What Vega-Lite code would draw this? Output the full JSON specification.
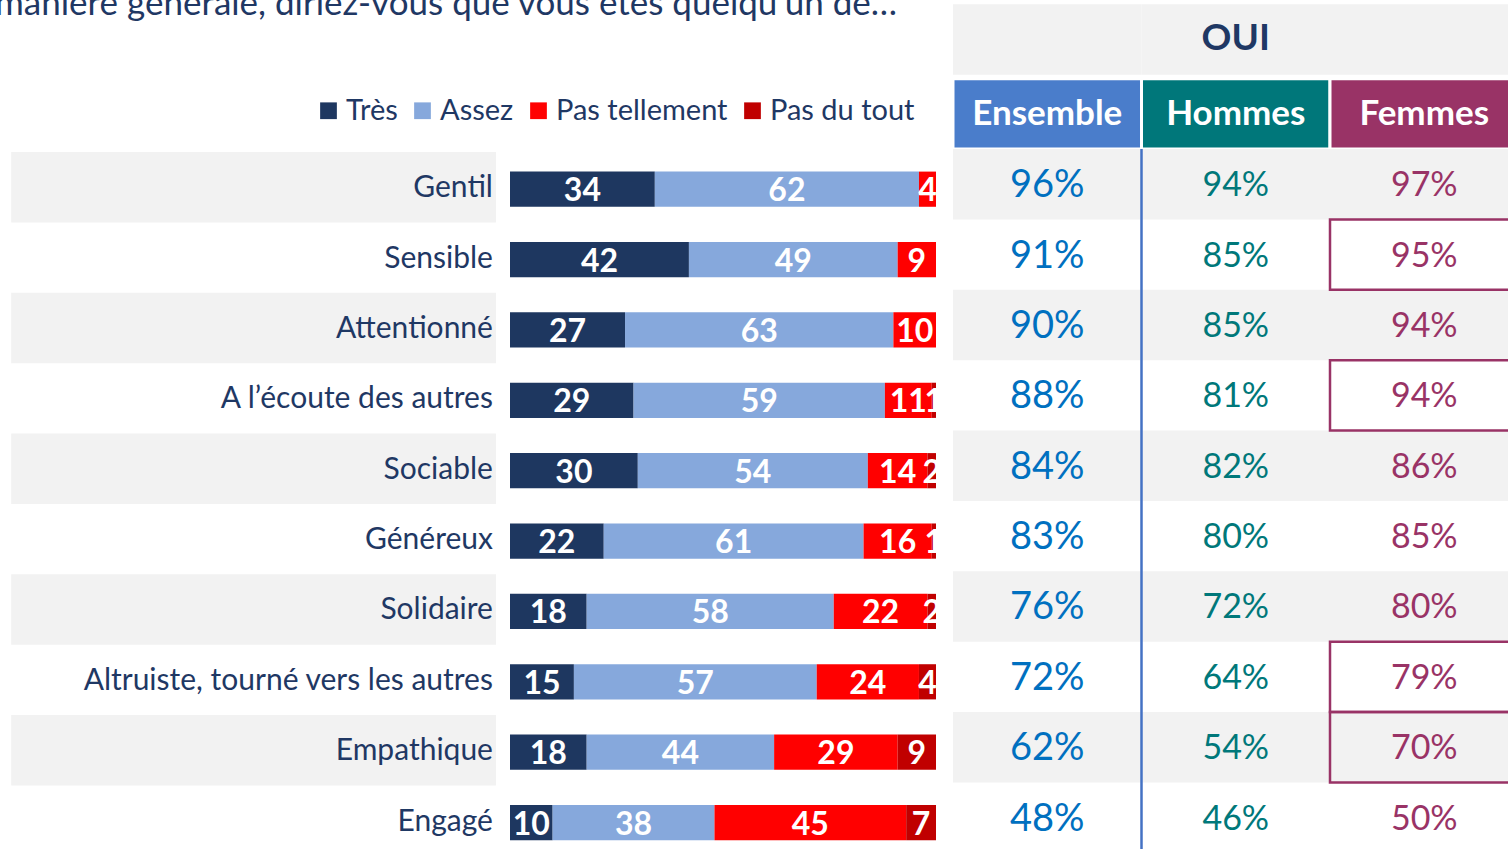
{
  "$schema": "https://vega.github.io/schema/vega-lite/v6.json",
  "width": 1508,
  "height": 849,
  "autosize": {"type": "none"},
  "padding": 0,
  "background": "white",
  "config": {"view": {"stroke": null}, "font": "Lato"},
  "datasets": {
    "barres": [
      {"item": "Gentil", "reponse": "Très", "valeur": 34},
      {"item": "Gentil", "reponse": "Assez", "valeur": 62},
      {"item": "Gentil", "reponse": "Pas tellement", "valeur": 4},
      {"item": "Sensible", "reponse": "Très", "valeur": 42},
      {"item": "Sensible", "reponse": "Assez", "valeur": 49},
      {"item": "Sensible", "reponse": "Pas tellement", "valeur": 9},
      {"item": "Attentionné", "reponse": "Très", "valeur": 27},
      {"item": "Attentionné", "reponse": "Assez", "valeur": 63},
      {"item": "Attentionné", "reponse": "Pas tellement", "valeur": 10},
      {"item": "A l’écoute des autres", "reponse": "Très", "valeur": 29},
      {"item": "A l’écoute des autres", "reponse": "Assez", "valeur": 59},
      {"item": "A l’écoute des autres", "reponse": "Pas tellement", "valeur": 11},
      {"item": "A l’écoute des autres", "reponse": "Pas du tout", "valeur": 1},
      {"item": "Sociable", "reponse": "Très", "valeur": 30},
      {"item": "Sociable", "reponse": "Assez", "valeur": 54},
      {"item": "Sociable", "reponse": "Pas tellement", "valeur": 14},
      {"item": "Sociable", "reponse": "Pas du tout", "valeur": 2},
      {"item": "Généreux", "reponse": "Très", "valeur": 22},
      {"item": "Généreux", "reponse": "Assez", "valeur": 61},
      {"item": "Généreux", "reponse": "Pas tellement", "valeur": 16},
      {"item": "Généreux", "reponse": "Pas du tout", "valeur": 1},
      {"item": "Solidaire", "reponse": "Très", "valeur": 18},
      {"item": "Solidaire", "reponse": "Assez", "valeur": 58},
      {"item": "Solidaire", "reponse": "Pas tellement", "valeur": 22},
      {"item": "Solidaire", "reponse": "Pas du tout", "valeur": 2},
      {"item": "Altruiste, tourné vers les autres", "reponse": "Très", "valeur": 15},
      {"item": "Altruiste, tourné vers les autres", "reponse": "Assez", "valeur": 57},
      {"item": "Altruiste, tourné vers les autres", "reponse": "Pas tellement", "valeur": 24},
      {"item": "Altruiste, tourné vers les autres", "reponse": "Pas du tout", "valeur": 4},
      {"item": "Empathique", "reponse": "Très", "valeur": 18},
      {"item": "Empathique", "reponse": "Assez", "valeur": 44},
      {"item": "Empathique", "reponse": "Pas tellement", "valeur": 29},
      {"item": "Empathique", "reponse": "Pas du tout", "valeur": 9},
      {"item": "Engagé", "reponse": "Très", "valeur": 10},
      {"item": "Engagé", "reponse": "Assez", "valeur": 38},
      {"item": "Engagé", "reponse": "Pas tellement", "valeur": 45},
      {"item": "Engagé", "reponse": "Pas du tout", "valeur": 7}
    ],
    "oui": [
      {"item": "Gentil", "Ensemble": 96, "Hommes": 94, "Femmes": 97, "ecart_femmes": false},
      {"item": "Sensible", "Ensemble": 91, "Hommes": 85, "Femmes": 95, "ecart_femmes": true},
      {"item": "Attentionné", "Ensemble": 90, "Hommes": 85, "Femmes": 94, "ecart_femmes": false},
      {"item": "A l’écoute des autres", "Ensemble": 88, "Hommes": 81, "Femmes": 94, "ecart_femmes": true},
      {"item": "Sociable", "Ensemble": 84, "Hommes": 82, "Femmes": 86, "ecart_femmes": false},
      {"item": "Généreux", "Ensemble": 83, "Hommes": 80, "Femmes": 85, "ecart_femmes": false},
      {"item": "Solidaire", "Ensemble": 76, "Hommes": 72, "Femmes": 80, "ecart_femmes": false},
      {"item": "Altruiste, tourné vers les autres", "Ensemble": 72, "Hommes": 64, "Femmes": 79, "ecart_femmes": true},
      {"item": "Empathique", "Ensemble": 62, "Hommes": 54, "Femmes": 70, "ecart_femmes": true},
      {"item": "Engagé", "Ensemble": 48, "Hommes": 46, "Femmes": 50, "ecart_femmes": false}
    ]
  },
  "resolve": {"scale": {"x": "independent", "color": "independent"}},
  "layer": [
    {
      "layer": [
        {
          "data": {"name": "oui"},
          "transform": [
            {"window": [{"op": "row_number", "as": "rang"}]},
            {"filter": "datum.rang % 2 == 1"}
          ],
          "mark": {"type": "rect", "color": "#f2f2f2", "yOffset": 3},
          "encoding": {
            "x": {"datum": -117.1, "type": "quantitative", "scale": {"domain": [0, 100], "range": [510, 936], "nice": false}, "axis": null},
            "x2": {"datum": -3.29},
            "y": {"field": "item", "type": "nominal", "axis": null, "scale": {"type": "band", "domain": ["OUI", "Groupes", "Gentil", "Sensible", "Attentionné", "A l’écoute des autres", "Sociable", "Généreux", "Solidaire", "Altruiste, tourné vers les autres", "Empathique", "Engagé"], "range": [8.25, 852.75], "paddingInner": 0, "paddingOuter": 0}}
          }
        },
        {
          "data": {"name": "oui"},
          "mark": {"type": "text", "align": "right", "baseline": "middle", "fontSize": 30, "color": "#1f3864", "yOffset": 4},
          "encoding": {
            "x": {"datum": -4, "type": "quantitative", "scale": {"domain": [0, 100], "range": [510, 936], "nice": false}, "axis": null},
            "y": {"field": "item", "type": "nominal", "axis": null, "scale": {"type": "band", "domain": ["OUI", "Groupes", "Gentil", "Sensible", "Attentionné", "A l’écoute des autres", "Sociable", "Généreux", "Solidaire", "Altruiste, tourné vers les autres", "Empathique", "Engagé"], "range": [8.25, 852.75], "paddingInner": 0, "paddingOuter": 0}},
            "text": {"field": "item"}
          }
        },
        {
          "data": {"name": "barres"},
          "transform": [
            {"calculate": "indexof(['Très','Assez','Pas tellement','Pas du tout'], datum.reponse)", "as": "ordre"},
            {"stack": "valeur", "groupby": ["item"], "sort": [{"field": "ordre", "order": "ascending"}], "as": ["v0", "v1"]}
          ],
          "mark": {"type": "bar", "height": {"band": 0.5}, "yOffset": 5},
          "encoding": {
            "x": {"field": "v0", "type": "quantitative", "scale": {"domain": [0, 100], "range": [510, 936], "nice": false}, "axis": null},
            "x2": {"field": "v1"},
            "y": {"field": "item", "type": "nominal", "axis": null, "scale": {"type": "band", "domain": ["OUI", "Groupes", "Gentil", "Sensible", "Attentionné", "A l’écoute des autres", "Sociable", "Généreux", "Solidaire", "Altruiste, tourné vers les autres", "Empathique", "Engagé"], "range": [8.25, 852.75], "paddingInner": 0, "paddingOuter": 0}},
            "color": {
              "field": "reponse", "type": "nominal",
              "scale": {"domain": ["Très", "Assez", "Pas tellement", "Pas du tout"], "range": ["#1e3760", "#86a8dc", "#ff0000", "#c00000"]},
              "legend": {"orient": "none", "legendX": 314, "legendY": 96, "direction": "horizontal", "title": null, "symbolType": "square", "symbolSize": 280, "symbolStrokeWidth": 0, "labelFontSize": 29, "labelFont": "Lato", "labelColor": "#1f3864", "labelLimit": 400, "labelOffset": 3, "columnSpacing": 15, "padding": 0}
            }
          }
        },
        {
          "data": {"name": "barres"},
          "transform": [
            {"calculate": "indexof(['Très','Assez','Pas tellement','Pas du tout'], datum.reponse)", "as": "ordre"},
            {"stack": "valeur", "groupby": ["item"], "sort": [{"field": "ordre", "order": "ascending"}], "as": ["v0", "v1"]},
            {"calculate": "(datum.v0 + datum.v1) / 2", "as": "milieu"}
          ],
          "mark": {"type": "text", "align": "center", "baseline": "middle", "fontSize": 32, "fontWeight": "bold", "color": "white", "yOffset": 7},
          "encoding": {
            "x": {"field": "milieu", "type": "quantitative", "scale": {"domain": [0, 100], "range": [510, 936], "nice": false}, "axis": null},
            "y": {"field": "item", "type": "nominal", "axis": null, "scale": {"type": "band", "domain": ["OUI", "Groupes", "Gentil", "Sensible", "Attentionné", "A l’écoute des autres", "Sociable", "Généreux", "Solidaire", "Altruiste, tourné vers les autres", "Empathique", "Engagé"], "range": [8.25, 852.75], "paddingInner": 0, "paddingOuter": 0}},
            "text": {"field": "valeur"}
          }
        },
        {
          "data": {"name": "oui"},
          "mark": {"type": "rect", "color": "white"},
          "encoding": {
            "x": {"datum": 100, "type": "quantitative", "scale": {"domain": [0, 100], "range": [510, 936], "nice": false}, "axis": null},
            "x2": {"datum": 103.99},
            "y": {"field": "item", "type": "nominal", "axis": null, "scale": {"type": "band", "domain": ["OUI", "Groupes", "Gentil", "Sensible", "Attentionné", "A l’écoute des autres", "Sociable", "Généreux", "Solidaire", "Altruiste, tourné vers les autres", "Empathique", "Engagé"], "range": [8.25, 852.75], "paddingInner": 0, "paddingOuter": 0}}
          }
        },
        {
          "data": {"values": [{}]},
          "mark": {"type": "text", "text": "manière générale, diriez-vous que vous êtes quelqu’un de…", "align": "left", "baseline": "alphabetic", "dy": 7, "fontSize": 35, "color": "#1f3864"},
          "encoding": {
            "x": {"datum": -120.9, "type": "quantitative", "scale": {"domain": [0, 100], "range": [510, 936], "nice": false}, "axis": null},
            "y": {"datum": "OUI", "type": "nominal", "bandPosition": 0, "axis": null, "scale": {"type": "band", "domain": ["OUI", "Groupes", "Gentil", "Sensible", "Attentionné", "A l’écoute des autres", "Sociable", "Généreux", "Solidaire", "Altruiste, tourné vers les autres", "Empathique", "Engagé"], "range": [8.25, 852.75], "paddingInner": 0, "paddingOuter": 0}}
          }
        }
      ]
    },
    {
      "layer": [
        {
          "data": {"name": "oui"},
          "transform": [
            {"fold": ["Ensemble", "Hommes", "Femmes"], "as": ["groupe", "valeur"]},
            {"filter": "datum.item === 'Gentil'"}
          ],
          "mark": {"type": "rect", "color": "#f2f2f2", "yOffset": -4},
          "encoding": {
            "x": {"field": "groupe", "type": "nominal", "axis": null, "scale": {"type": "band", "domain": ["Ensemble", "Hommes", "Femmes"], "range": [953, 1518.5], "paddingInner": 0, "paddingOuter": 0}},
            "y": {"datum": "OUI", "type": "nominal", "axis": null, "scale": {"type": "band", "domain": ["OUI", "Groupes", "Gentil", "Sensible", "Attentionné", "A l’écoute des autres", "Sociable", "Généreux", "Solidaire", "Altruiste, tourné vers les autres", "Empathique", "Engagé"], "range": [8.25, 852.75], "paddingInner": 0, "paddingOuter": 0}}
          }
        },
        {
          "data": {"values": [{}]},
          "mark": {"type": "text", "text": "OUI", "align": "center", "baseline": "middle", "fontSize": 37, "fontWeight": "bold", "color": "#1f3864", "yOffset": -4},
          "encoding": {
            "x": {"datum": "Hommes", "type": "nominal", "axis": null, "scale": {"type": "band", "domain": ["Ensemble", "Hommes", "Femmes"], "range": [953, 1518.5], "paddingInner": 0, "paddingOuter": 0}},
            "y": {"datum": "OUI", "type": "nominal", "axis": null, "scale": {"type": "band", "domain": ["OUI", "Groupes", "Gentil", "Sensible", "Attentionné", "A l’écoute des autres", "Sociable", "Généreux", "Solidaire", "Altruiste, tourné vers les autres", "Empathique", "Engagé"], "range": [8.25, 852.75], "paddingInner": 0, "paddingOuter": 0}}
          }
        },
        {
          "data": {"name": "oui"},
          "transform": [
            {"fold": ["Ensemble", "Hommes", "Femmes"], "as": ["groupe", "valeur"]},
            {"filter": "datum.item === 'Gentil'"}
          ],
          "mark": {"type": "rect", "stroke": "white", "strokeWidth": 3},
          "encoding": {
            "x": {"field": "groupe", "type": "nominal", "axis": null, "scale": {"type": "band", "domain": ["Ensemble", "Hommes", "Femmes"], "range": [953, 1518.5], "paddingInner": 0, "paddingOuter": 0}},
            "y": {"datum": "Groupes", "type": "nominal", "axis": null, "scale": {"type": "band", "domain": ["OUI", "Groupes", "Gentil", "Sensible", "Attentionné", "A l’écoute des autres", "Sociable", "Généreux", "Solidaire", "Altruiste, tourné vers les autres", "Empathique", "Engagé"], "range": [8.25, 852.75], "paddingInner": 0, "paddingOuter": 0}},
            "fill": {"field": "groupe", "type": "nominal", "legend": null, "scale": {"domain": ["Ensemble", "Hommes", "Femmes"], "range": ["#4a7dcb", "#00777a", "#993366"]}}
          }
        },
        {
          "data": {"name": "oui"},
          "transform": [
            {"fold": ["Ensemble", "Hommes", "Femmes"], "as": ["groupe", "valeur"]},
            {"filter": "datum.item === 'Gentil'"}
          ],
          "mark": {"type": "text", "align": "center", "baseline": "middle", "fontSize": 35, "fontWeight": "bold", "color": "white"},
          "encoding": {
            "x": {"field": "groupe", "type": "nominal", "axis": null, "scale": {"type": "band", "domain": ["Ensemble", "Hommes", "Femmes"], "range": [953, 1518.5], "paddingInner": 0, "paddingOuter": 0}},
            "y": {"datum": "Groupes", "type": "nominal", "axis": null, "scale": {"type": "band", "domain": ["OUI", "Groupes", "Gentil", "Sensible", "Attentionné", "A l’écoute des autres", "Sociable", "Généreux", "Solidaire", "Altruiste, tourné vers les autres", "Empathique", "Engagé"], "range": [8.25, 852.75], "paddingInner": 0, "paddingOuter": 0}},
            "text": {"field": "groupe"}
          }
        },
        {
          "data": {"name": "oui"},
          "transform": [
            {"fold": ["Ensemble", "Hommes", "Femmes"], "as": ["groupe", "valeur"]},
            {"window": [{"op": "row_number", "as": "rang"}], "groupby": ["groupe"]},
            {"filter": "datum.rang % 2 == 1"}
          ],
          "mark": {"type": "rect", "color": "#f2f2f2"},
          "encoding": {
            "x": {"field": "groupe", "type": "nominal", "axis": null, "scale": {"type": "band", "domain": ["Ensemble", "Hommes", "Femmes"], "range": [953, 1518.5], "paddingInner": 0, "paddingOuter": 0}},
            "y": {"field": "item", "type": "nominal", "axis": null, "scale": {"type": "band", "domain": ["OUI", "Groupes", "Gentil", "Sensible", "Attentionné", "A l’écoute des autres", "Sociable", "Généreux", "Solidaire", "Altruiste, tourné vers les autres", "Empathique", "Engagé"], "range": [8.25, 852.75], "paddingInner": 0, "paddingOuter": 0}}
          }
        },
        {
          "data": {"name": "oui"},
          "transform": [
            {"fold": ["Ensemble", "Hommes", "Femmes"], "as": ["groupe", "valeur"]},
            {"calculate": "datum.valeur + '%'", "as": "etiquette"}
          ],
          "mark": {"type": "text", "align": "center", "baseline": "middle", "yOffset": 2},
          "encoding": {
            "x": {"field": "groupe", "type": "nominal", "axis": null, "scale": {"type": "band", "domain": ["Ensemble", "Hommes", "Femmes"], "range": [953, 1518.5], "paddingInner": 0, "paddingOuter": 0}},
            "y": {"field": "item", "type": "nominal", "axis": null, "scale": {"type": "band", "domain": ["OUI", "Groupes", "Gentil", "Sensible", "Attentionné", "A l’écoute des autres", "Sociable", "Généreux", "Solidaire", "Altruiste, tourné vers les autres", "Empathique", "Engagé"], "range": [8.25, 852.75], "paddingInner": 0, "paddingOuter": 0}},
            "text": {"field": "etiquette"},
            "color": {"field": "groupe", "type": "nominal", "legend": null, "scale": {"domain": ["Ensemble", "Hommes", "Femmes"], "range": ["#0070c0", "#00787a", "#993366"]}},
            "size": {"condition": {"test": "datum.groupe === 'Ensemble'", "value": 38}, "value": 34}
          }
        },
        {
          "data": {"name": "oui"},
          "transform": [
            {"fold": ["Ensemble", "Hommes", "Femmes"], "as": ["groupe", "valeur"]},
            {"filter": "datum.groupe === 'Femmes' && datum.ecart_femmes"}
          ],
          "mark": {"type": "rect", "filled": false, "stroke": "#993366", "strokeWidth": 2.5},
          "encoding": {
            "x": {"field": "groupe", "type": "nominal", "axis": null, "scale": {"type": "band", "domain": ["Ensemble", "Hommes", "Femmes"], "range": [953, 1518.5], "paddingInner": 0, "paddingOuter": 0}},
            "y": {"field": "item", "type": "nominal", "axis": null, "scale": {"type": "band", "domain": ["OUI", "Groupes", "Gentil", "Sensible", "Attentionné", "A l’écoute des autres", "Sociable", "Généreux", "Solidaire", "Altruiste, tourné vers les autres", "Empathique", "Engagé"], "range": [8.25, 852.75], "paddingInner": 0, "paddingOuter": 0}}
          }
        },
        {
          "data": {"values": [{}]},
          "mark": {"type": "rule", "color": "#4472c4", "strokeWidth": 2.5},
          "encoding": {
            "x": {"datum": "Hommes", "type": "nominal", "bandPosition": 0, "axis": null, "scale": {"type": "band", "domain": ["Ensemble", "Hommes", "Femmes"], "range": [953, 1518.5], "paddingInner": 0, "paddingOuter": 0}},
            "y": {"datum": "Gentil", "type": "nominal", "bandPosition": 0, "axis": null, "scale": {"type": "band", "domain": ["OUI", "Groupes", "Gentil", "Sensible", "Attentionné", "A l’écoute des autres", "Sociable", "Généreux", "Solidaire", "Altruiste, tourné vers les autres", "Empathique", "Engagé"], "range": [8.25, 852.75], "paddingInner": 0, "paddingOuter": 0}},
            "y2": {"datum": "Engagé", "bandPosition": 1}
          }
        }
      ]
    }
  ]
}
